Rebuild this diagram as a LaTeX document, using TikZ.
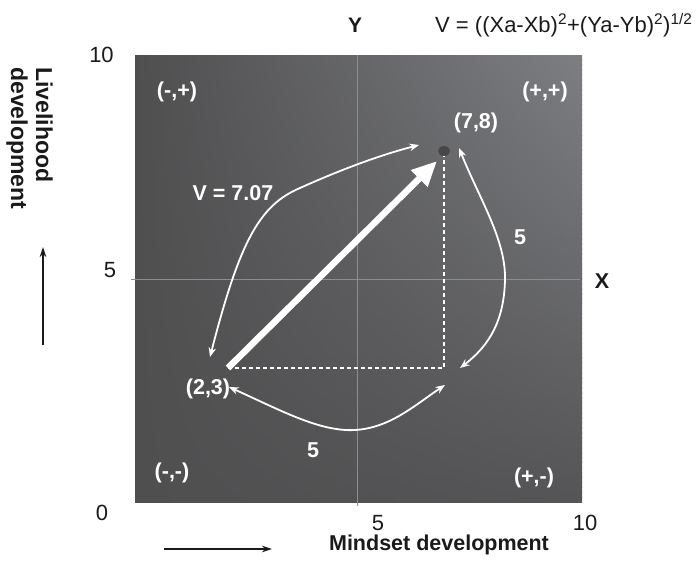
\documentclass[tikz,border=0pt]{standalone}
\usepackage{fontspec}
\setmainfont{Liberation Sans}
\usetikzlibrary{arrows.meta}
\definecolor{bgL}{HTML}{4F4F50}
\definecolor{bgRT}{HTML}{7D7E82}
\definecolor{bgRB}{HTML}{555557}
\definecolor{midline}{HTML}{8C8D91}
\definecolor{dotc}{HTML}{47474A}
\definecolor{ink}{HTML}{1A1A1A}
\newcommand{\ylabfont}{\fontsize{21}{24}\selectfont\bfseries}
\newcommand{\rotlabfont}{\fontsize{23}{25}\selectfont\bfseries}
\tikzset{
  wlab/.style={text=white, font=\fontsize{21.5}{25}\selectfont\bfseries, inner sep=0},
  ticklab/.style={text=ink, font=\fontsize{22}{26}\selectfont, inner sep=0, anchor=base},
  axlab/.style={text=ink, font=\fontsize{21.5}{25}\selectfont\bfseries, inner sep=0},
  ylab/.style={text=ink, font=\ylabfont, inner sep=0, anchor=base},
  rotlab/.style={text=ink, font=\rotlabfont, inner sep=0},
  thinarr/.style={white, line width=1.8pt, {Stealth[length=9.5pt,width=7.5pt]}-{Stealth[length=9.5pt,width=7.5pt]}},
  axarr/.style={ink, line width=1.6pt, -{Stealth[length=10pt,width=6.5pt]}},
  gridln/.style={midline, line width=1pt},
  dashln/.style={white, line width=2pt, dash pattern=on 4pt off 3pt},
  bigarr/.style={white, line width=6.5pt, -{Triangle[length=25pt,width=22pt]}}
}
\begin{document}
\begin{tikzpicture}[x=1pt,y=-1pt]
\useasboundingbox (0,0) rectangle (698,560);
% background box with gradient
\begin{scope}
\clip (135,55) rectangle (582,502);
\foreach \i in {0,...,89}{
  \pgfmathtruncatemacro\p{round(100*(1-\i/89))}
  \shade[left color=bgL, right color=bgRT!\p!bgRB] (135,55+\i*4.967) rectangle (582,55+\i*4.967+5.6);
}
\end{scope}
% mid lines
\coordinate (vtop) at (357,55);
\coordinate (vbot) at (357,506);
\coordinate (hleft) at (131,279);
\coordinate (hright) at (580,279);
\draw[gridln] (vtop) -- (vbot);
\draw[gridln] (hleft) -- (hright);
% points
\coordinate (P23) at (228,368);
\coordinate (P78) at (444,151);
\coordinate (corner) at (444,368);
\coordinate (tipV) at (437,161);
\draw[dashln] (P23) -- (corner) -- (P78);
\draw[bigarr] (P23) -- (tipV);
\fill[dotc] (P78) ellipse [x radius=6, y radius=5];
% curved arrows
\coordinate (a1) at (210,357);
\coordinate (a2) at (419,145);
\draw[thinarr] (a1) .. controls (240,240) and (260,205) .. (300,188) .. controls (340,170) and (380,155) .. (a2);
\coordinate (b1) at (459,148);
\coordinate (b2) at (460,368);
\draw[thinarr] (b1) .. controls (480,200) and (506,240) .. (505,280) .. controls (504,320) and (490,345) .. (b2);
\coordinate (c1) at (229,387);
\coordinate (c2) at (445,385);
\draw[thinarr] (c1) .. controls (280,410) and (320,432) .. (355,430) .. controls (390,428) and (415,405) .. (c2);
% labels inside
\node[wlab] (qtl) at (177,92) {(-,+)};
\node[wlab] (qtr) at (545,92) {(+,+)};
\node[wlab] (qbl) at (172,473) {(-,-)};
\node[wlab] (qbr) at (534,478) {(+,-)};
\node[wlab] (l78) at (476,123) {(7,8)};
\node[wlab] (l23) at (208,389) {(2,3)};
\node[wlab, anchor=base] (lv) at (233,200) {V = 7.07};
\node[wlab, anchor=base] (l5r) at (520,244) {5};
\node[wlab, anchor=base] (l5b) at (313,457) {5};
% axis ticks
\node[ticklab] (t10y) at (101.5,62) {10};
\node[ticklab] (t5y) at (110,277) {5};
\node[ticklab] (t0) at (102,520) {0};
\node[ticklab] (t5x) at (378,530) {5};
\node[ticklab] (t10x) at (585,530) {10};
% axis names
\node[axlab, anchor=base] (xl) at (602,288) {X};
\node[ylab] (yl) at (355,32) {Y};
\node[text=ink, font=\fontsize{22}{26}\selectfont, inner sep=0, anchor=base west] (formula) at (435,32) {V = ((Xa-Xb)\textsuperscript{2}+(Ya-Yb)\textsuperscript{2})\textsuperscript{1/2}};
\node[axlab, anchor=base] (mind) at (439,550) {Mindset development};
\node[rotlab, rotate=-90, anchor=north west, align=left] (live) at (53,67) {Livelihood\\development};
% axis arrows
\coordinate (ua) at (43,345);
\coordinate (ub) at (43,247);
\draw[axarr] (ua) -- (ub);
\coordinate (ra) at (164,549);
\coordinate (rb) at (272,549);
\draw[axarr] (ra) -- (rb);
\end{tikzpicture}
\end{document}
